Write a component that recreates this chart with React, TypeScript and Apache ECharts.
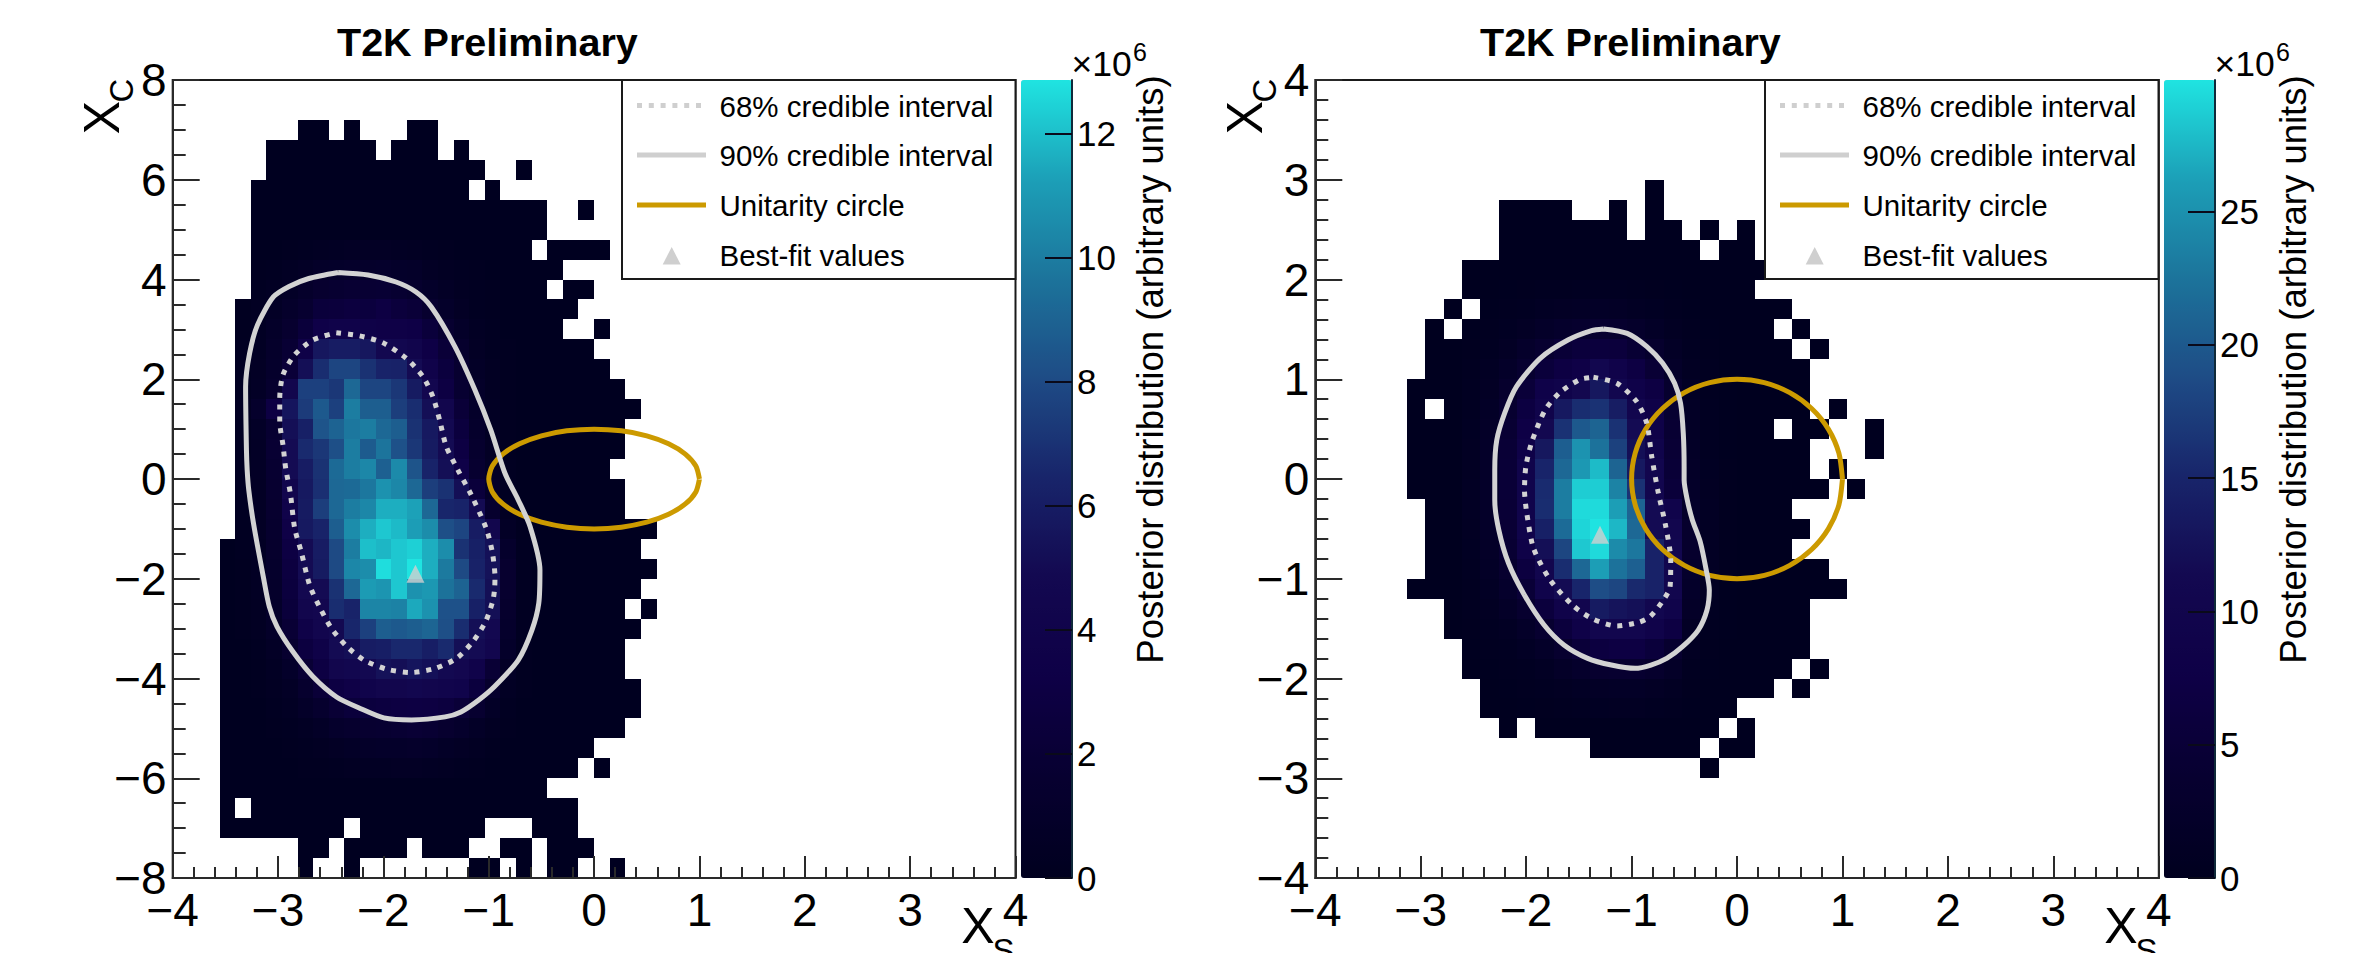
import React, { useEffect, useRef } from "react";
import * as echarts from "echarts";

const FONT = "'Liberation Sans', Arial, sans-serif";

const legendLabels = ["68% credible interval", "90% credible interval", "Unitarity circle", "Best-fit values"];
const titleText = "T2K Preliminary";
const colorbarTitle = "Posterior distribution (arbitrary units)";

// Histogram binning
const leftBins = 54;
const rightBins = 46;
const rowCount = 40;

// Occupied bins per row (row 0 is the top row): [firstColumn, lastColumn]
const leftOccupied: number[][][] = [
  [], [],
  [[8, 9], [11, 11], [15, 16]],
  [[6, 12], [14, 16], [18, 18]],
  [[6, 19], [22, 22]],
  [[5, 18], [20, 20]],
  [[5, 23], [26, 26]],
  [[5, 23]],
  [[5, 22], [24, 27]],
  [[5, 24]],
  [[5, 23], [25, 26]],
  [[4, 25]],
  [[4, 24], [27, 27]],
  [[4, 26]],
  [[4, 27]],
  [[4, 28]],
  [[4, 29]],
  [[4, 28]],
  [[4, 28]],
  [[4, 27]],
  [[4, 28]],
  [[4, 28]],
  [[4, 30]],
  [[3, 29]],
  [[3, 30]],
  [[3, 29]],
  [[3, 28], [30, 30]],
  [[3, 29]],
  [[3, 28]],
  [[3, 28]],
  [[3, 29]],
  [[3, 29]],
  [[3, 28]],
  [[3, 26]],
  [[3, 25], [27, 27]],
  [[3, 23]],
  [[3, 3], [5, 25]],
  [[3, 10], [12, 19], [23, 25]],
  [[8, 9], [11, 14], [16, 18], [21, 22], [24, 26]],
  [[8, 8], [11, 11], [19, 20], [22, 22], [24, 25], [28, 28]],
];

const rightOccupied: number[][][] = [
  [], [], [], [], [],
  [[18, 18]],
  [[10, 13], [16, 16], [18, 18]],
  [[10, 16], [18, 19], [21, 21], [23, 23]],
  [[10, 20], [22, 23]],
  [[8, 24]],
  [[8, 23]],
  [[7, 7], [9, 25]],
  [[6, 6], [8, 24], [26, 26]],
  [[6, 25], [27, 27]],
  [[6, 26]],
  [[5, 26]],
  [[5, 5], [7, 26], [28, 28]],
  [[5, 24], [26, 27], [30, 30]],
  [[5, 26], [30, 30]],
  [[5, 26], [28, 28]],
  [[5, 27], [29, 29]],
  [[6, 25]],
  [[6, 26]],
  [[6, 25]],
  [[6, 27]],
  [[5, 28]],
  [[7, 26]],
  [[7, 26]],
  [[8, 26]],
  [[8, 25], [27, 27]],
  [[9, 24], [26, 26]],
  [[9, 22]],
  [[10, 10], [12, 21], [23, 23]],
  [[15, 20], [22, 23]],
  [[21, 21]],
  [], [], [], [], [],
];

// Posterior values (x10^6) in the central region; every other occupied bin holds a trace value
const traceValue = 0.1;
const leftCoreFirstRow = 8;
const leftCoreFirstCol = 4;
const leftCore: number[][] = [
  [.1, .1, .1, .2, .3, .4, .5, .6, .6, .6, .5, .4, .3, .2, .1, .1, .1, .1, .1, .1],
  [.1, .2, .3, .5, .7, .9, 1, 1.1, 1.1, 1.2, 1, .9, .6, .4, .3, .2, .1, .1, .1, .1],
  [.1, .3, .5, .8, 1.1, 1.5, 1.7, 1.8, 1.8, 1.9, 1.7, 1.4, 1, .7, .4, .3, .2, .1, .1, .1],
  [.2, .4, .7, 1.1, 1.6, 2.4, 2.5, 2.7, 2.6, 3, 2.5, 2.2, 1.5, 1, .6, .3, .2, .1, .1, .1],
  [.2, .5, .9, 1.5, 2.4, 3.5, 3.8, 3.8, 3.6, 3.4, 3.4, 3.2, 2.4, 1.6, .9, .5, .3, .1, .1, .1],
  [.3, .5, 1.1, 1.9, 3.5, 5.7, 6, 6, 5.7, 4.8, 4.6, 4.2, 3.2, 2.2, 1.3, .6, .3, .2, .1, .1],
  [.3, .6, 1.2, 2.2, 5.2, 6.8, 7.8, 7.8, 7, 6.4, 6.3, 5, 3.9, 2.6, 1.6, .8, .4, .2, .1, .1],
  [.3, .7, 1.4, 4.4, 7.6, 7.6, 7.2, 9.2, 7.8, 7.8, 7.2, 5.9, 4.7, 3, 1.7, .9, .4, .2, .1, .1],
  [.4, 1.2, 3, 5.6, 7.4, 8.6, 7.6, 10, 8.8, 8.8, 7.5, 6.8, 5.2, 4.4, 2.2, 1, .5, .2, .1, .1],
  [.3, .8, 1.7, 5.2, 6.2, 8.4, 9, 9.8, 10, 9.2, 8.8, 7, 5.8, 4.9, 2.6, 1.2, .5, .2, .1, .1],
  [.3, .7, 1.8, 5, 6.7, 7.2, 8.2, 10, 8.7, 9.7, 8.3, 7.2, 5.9, 5, 3, 1.4, .6, .2, .1, .1],
  [.3, .7, 1.7, 5, 6, 7, 9.3, 10, 10.4, 8.9, 10.5, 8.4, 6.4, 5.2, 3.5, 1.6, .7, .3, .1, .1],
  [.3, .6, 1.6, 4.4, 5.8, 6.9, 9.2, 9.3, 9.8, 10.8, 10.4, 9.2, 7.5, 7, 5.2, 2.4, .9, .3, .1, .1],
  [.3, .6, 1.5, 3.8, 5.9, 7.5, 9.2, 10, 10.4, 11.6, 11.6, 11.3, 9.2, 6.5, 6.4, 5, 1.4, .4, .1, .1],
  [.3, .6, 1.4, 3.4, 5.8, 6.4, 8.8, 10.6, 11.6, 12.2, 11.9, 11.2, 10.6, 8.2, 7.8, 6, 4.4, .7, .2, .1],
  [.3, .5, 1.3, 3, 5, 6, 8, 10, 12, 11.8, 12.2, 12.4, 11.6, 10.6, 7, 6.2, 5.3, 1.2, .3, .1],
  [.2, .5, 1.2, 2.8, 5, 5.9, 8, 10.4, 10.6, 12.7, 12.2, 12.87, 11.6, 9.9, 8, 6.3, 5.4, 1.5, .3, .1],
  [.2, .5, 1.1, 2.6, 4.8, 5, 7, 9.2, 11.1, 10.9, 12.2, 10.8, 11, 9.6, 9, 6.7, 5.2, 1.5, .3, .1],
  [.2, .4, 1, 2.4, 4.4, 4.7, 6.8, 6.4, 10.3, 10.3, 10.2, 11.5, 10.8, 8.3, 8.3, 6.2, 5.2, 1.3, .3, .1],
  [.2, .4, .9, 2, 3.6, 4.5, 4.9, 6.5, 7.6, 8.8, 8.6, 8.8, 9.1, 8.2, 6.8, 5.2, 4.8, 1.2, .3, .1],
  [.1, .3, .7, 1.5, 2.8, 3.6, 5, 5.2, 6, 6.1, 6.6, 6.6, 6.1, 6.7, 5.2, 5, 4.5, 1, .2, .1],
  [.1, .2, .5, 1, 2, 3, 4.4, 4.6, 4.9, 5.4, 5.2, 5.6, 5.3, 4.9, 4.7, 3.8, 2, .7, .2, .1],
  [.1, .2, .4, .7, 1.4, 2.2, 3, 3.4, 4, 4.4, 4.4, 4.6, 4.4, 4.2, 4, 2.6, 1.3, .5, .2, .1],
  [.1, .1, .3, .5, .9, 1.4, 2, 2.4, 2.6, 2.8, 2.9, 3, 2.9, 2.7, 2.2, 1.6, .8, .3, .1, .1],
  [.1, .1, .2, .3, .5, .8, 1.2, 1.4, 1.6, 1.7, 1.8, 2, 1.8, 1.5, 1.2, .8, .4, .2, .1, .1],
  [.1, .1, .1, .2, .3, .4, .6, .8, .9, 1, 1, 1.1, 1, .8, .6, .4, .2, .1, .1, .1],
  [.1, .1, .1, .1, .2, .2, .3, .4, .5, .5, .6, .6, .5, .4, .3, .2, .1, .1, .1, .1],
];

const rightCoreFirstRow = 10;
const rightCoreFirstCol = 8;
const rightCore: number[][] = [
  [.1, .1, .2, .3, .4, .5, .6, .6, .6, .5, .3, .2, .1, .1, .1, .1],
  [.1, .2, .4, .7, 1, 1.4, 1.6, 1.7, 1.6, 1.2, .8, .5, .2, .1, .1, .1],
  [.2, .4, .8, 1.4, 2.2, 2.9, 3.3, 3.5, 3.3, 2.6, 1.7, .9, .4, .2, .1, .1],
  [.3, .7, 1.4, 2.6, 3.8, 5, 5.8, 6, 5.7, 4.4, 3, 1.5, .6, .3, .1, .1],
  [.4, 1, 2.2, 3.8, 5.6, 6.9, 8, 10.7, 9, 6.9, 4.6, 2.3, .9, .4, .1, .1],
  [.6, 1.4, 3, 5.3, 8.6, 9.3, 11, 13.3, 10.7, 8.6, 7, 3.2, 1.3, .5, .2, .1],
  [.7, 1.8, 3.7, 6.6, 9.3, 13.5, 15.8, 16.3, 14, 10.5, 8.2, 3.9, 1.5, .6, .2, .1],
  [.8, 2, 4.3, 7.6, 11.2, 16.3, 20, 21, 16.3, 11.6, 8.2, 4.2, 1.6, .6, .2, .1],
  [.9, 2.2, 4.8, 8.4, 13.3, 20.5, 25.2, 22.4, 17.7, 12.1, 9.3, 4.6, 1.8, .7, .2, .1],
  [.9, 2.3, 5, 9.3, 14.9, 21.4, 25.6, 27.7, 21, 13.5, 10.5, 5, 2, .8, .3, .1],
  [1, 2.3, 5, 9.3, 15.6, 23.3, 28.7, 28.7, 23.8, 16.3, 10.5, 5.4, 2.2, .9, .3, .1],
  [1, 2.3, 4.8, 9.3, 15.8, 23.3, 29.4, 29.4, 26.1, 21, 11.6, 9.3, 2.4, 1, .3, .1],
  [.9, 2.2, 4.6, 9.3, 14.4, 21.7, 29.1, 29.9, 27.5, 21.4, 11.6, 10.3, 3, 1.1, .3, .1],
  [.8, 2, 4.2, 8.4, 12.1, 18.2, 28.4, 29.4, 24.5, 22.8, 14.7, 10.7, 3, 1.1, .3, .1],
  [.7, 1.7, 3.6, 6.5, 10.5, 15.8, 21.4, 26.1, 22.4, 20.7, 14.7, 10.3, 2.8, 1, .3, .1],
  [.5, 1.3, 2.8, 5, 9.3, 11.6, 15.1, 18.9, 18.2, 15.4, 14.7, 10.5, 2.4, .9, .2, .1],
  [.4, .9, 1.9, 3.6, 6, 8.9, 10.5, 13.7, 12.8, 12.3, 10.7, 9.3, 1.9, .7, .2, .1],
  [.3, .6, 1.2, 2.2, 3.8, 6, 8.2, 10.3, 10.5, 10.5, 8.9, 7, 1.4, .5, .2, .1],
  [.2, .4, .7, 1.3, 2.2, 3.6, 5.3, 6.5, 7, 7, 5.6, 3.5, .9, .3, .1, .1],
  [.1, .2, .4, .7, 1.2, 1.9, 2.8, 3.5, 3.8, 3.8, 3, 1.9, .5, .2, .1, .1],
  [.1, .1, .2, .4, .6, .9, 1.3, 1.6, 1.8, 1.8, 1.4, .9, .3, .1, .1, .1],
  [.1, .1, .1, .2, .3, .4, .6, .8, .9, .9, .7, .4, .2, .1, .1, .1],
];

// Credible-interval contours, read in data coordinates
const left90: number[][] = [
  [-2.43, 4.14], [-2.145, 4.09], [-1.88, 3.95], [-1.69, 3.75], [-1.545, 3.45], [-1.32, 2.65], [-1.13, 1.78],
  [-.98, .98], [-.845, .11], [-.72, -.42], [-.607, -.956], [-.514, -1.825], [-.525, -2.49], [-.59, -3.03],
  [-.72, -3.63], [-.945, -4.16], [-1.095, -4.43], [-1.264, -4.67], [-1.414, -4.77], [-1.733, -4.83],
  [-1.995, -4.79], [-2.22, -4.6], [-2.445, -4.37], [-2.67, -3.96], [-2.86, -3.46], [-3.01, -2.96],
  [-3.083, -2.56], [-3.14, -1.96], [-3.233, -.89], [-3.278, -.22], [-3.293, .18], [-3.3, .58], [-3.308, 1.85],
  [-3.27, 2.52], [-3.195, 3.09], [-3.045, 3.65], [-2.895, 3.86], [-2.708, 4.02], [-2.43, 4.14],
];
const left68: number[][] = [
  [-2.447, 2.934], [-2.225, 2.87], [-2.004, 2.73], [-1.783, 2.42], [-1.624, 2.05], [-1.53, 1.65], [-1.466, 1.18],
  [-1.403, .65], [-1.292, .18], [-1.166, -.32], [-1.024, -.99], [-.967, -1.46], [-.941, -1.96], [-.944, -2.19],
  [-.96, -2.43], [-1.03, -2.86], [-1.15, -3.26], [-1.308, -3.6], [-1.514, -3.8], [-1.735, -3.88], [-1.956, -3.82],
  [-2.178, -3.64], [-2.352, -3.35], [-2.494, -2.99], [-2.605, -2.57], [-2.7, -2.13], [-2.78, -1.46], [-2.842, -.99],
  [-2.883, -.29], [-2.927, .21], [-2.953, .68], [-2.984, 1.15], [-2.984, 1.62], [-2.953, 2.09], [-2.842, 2.49],
  [-2.668, 2.79], [-2.447, 2.934],
];
const right90: number[][] = [
  [-1.267, 1.504], [-1.042, 1.46], [-.855, 1.327], [-.705, 1.16], [-.592, .96], [-.536, .76], [-.51, .46],
  [-.502, .124], [-.502, -.01], [-.472, -.21], [-.424, -.41], [-.349, -.63], [-.293, -.91], [-.263, -1.113],
  [-.285, -1.313], [-.368, -1.514], [-.518, -1.681], [-.667, -1.798], [-.817, -1.865], [-.967, -1.898],
  [-1.192, -1.865], [-1.417, -1.798], [-1.642, -1.664], [-1.83, -1.464], [-2.017, -1.163], [-2.167, -.845],
  [-2.26, -.51], [-2.298, -.21], [-2.298, .09], [-2.279, .39], [-2.204, .66], [-2.092, .926], [-1.867, 1.21],
  [-1.604, 1.393], [-1.38, 1.487], [-1.267, 1.504],
];
const right68: number[][] = [
  [-1.362, 1.02], [-1.14, .96], [-.951, .775], [-.856, .558], [-.809, .224], [-.746, -.144], [-.682, -.444],
  [-.629, -.812], [-.635, -1.08], [-.698, -1.213], [-.825, -1.38], [-.935, -1.437], [-1.14, -1.474], [-1.362, -1.407],
  [-1.551, -1.273], [-1.772, -1.013], [-1.93, -.695], [-1.994, -.344], [-2.016, -.11], [-2.003, .124], [-1.946, .374],
  [-1.82, .692], [-1.678, .869], [-1.488, .999], [-1.362, 1.02],
];

// Unit circle
const unitarityCircle: number[][] = [
  [1, 0], [.966, .259], [.866, .5], [.707, .707], [.5, .866], [.259, .966], [0, 1], [-.259, .966], [-.5, .866],
  [-.707, .707], [-.866, .5], [-.966, .259], [-1, 0], [-.966, -.259], [-.866, -.5], [-.707, -.707], [-.5, -.866],
  [-.259, -.966], [0, -1], [.259, -.966], [.5, -.866], [.707, -.707], [.866, -.5], [.966, -.259], [1, 0],
];

const leftBestFit = [-1.696, -1.9];
const rightBestFit = [-1.3, -0.56];

const leftColorMax = 12.87;
const rightColorMax = 29.93;
const leftColorTicks = [0, 2, 4, 6, 8, 10, 12];
const rightColorTicks = [0, 5, 10, 15, 20, 25];

const colorStops = ["#00001f", "#070030", "#0e0046", "#130850", "#18246a", "#1e4b85", "#1c739b", "#1c9fb7", "#1fe4e1"];

const BLACK = "#000000";
const AXIS = "#2a2a2a";
const CONTOUR = "#d3d3d3";
const GOLD = "#cc9a00";

function buildCells(
  occupied: number[][][], bins: number, xMin: number, xMax: number, yMax: number, yMin: number,
  core: number[][], firstRow: number, firstCol: number,
) {
  const cells: number[][] = [];
  const dx = (xMax - xMin) / bins;
  const dy = (yMax - yMin) / rowCount;
  occupied.forEach((runs, r) => {
    runs.forEach(([a, b]) => {
      for (let c = a; c <= b; c++) {
        const coreRow = core[r - firstRow];
        const v = coreRow && coreRow[c - firstCol] !== undefined ? coreRow[c - firstCol] : traceValue;
        cells.push([xMin + c * dx, yMax - (r + 1) * dy, xMin + (c + 1) * dx, yMax - r * dy, v]);
      }
    });
  });
  return cells;
}

const minus = (v: number) => (v < 0 ? "\u2212" + -v : String(v));

const renderCell = (_: any, api: any) => {
  const a = api.coord([api.value(0), api.value(3)]);
  const b = api.coord([api.value(2), api.value(1)]);
  const x = Math.round(a[0]);
  const y = Math.round(a[1]);
  return {
    type: "rect",
    shape: { x, y, width: Math.round(b[0]) - x, height: Math.round(b[1]) - y },
    style: { fill: api.visual("color") },
  };
};

function valueAxis(gridIndex: number, min: number, max: number, interval: number, minorSplit: number, isX: boolean) {
  return {
    type: "value",
    gridIndex,
    min,
    max,
    interval,
    position: isX ? "bottom" : "left",
    splitLine: { show: false },
    axisLine: { show: true, onZero: false, lineStyle: { color: AXIS, width: 2 } },
    axisTick: { show: true, inside: true, length: isX ? 22 : 27, lineStyle: { color: AXIS, width: 2 } },
    minorTick: { show: true, splitNumber: minorSplit, length: isX ? 11 : 13, lineStyle: { color: AXIS, width: 2 } },
    minorSplitLine: { show: false },
    axisLabel: {
      color: BLACK, fontFamily: FONT, fontSize: 46, margin: isX ? 9 : 6, formatter: minus,
      showMinLabel: true, showMaxLabel: true,
    },
    z: 5,
  };
}

function hiddenX(gridIndex: number) {
  return { type: "value", gridIndex, min: 0, max: 1, show: false };
}

function colorAxis(gridIndex: number, max: number, ticks: number[]) {
  return {
    type: "value",
    gridIndex,
    min: 0,
    max,
    position: "right",
    splitLine: { show: false },
    axisLine: { show: true, onZero: false, lineStyle: { color: "#102a3a", width: 2 } },
    axisTick: { show: true, inside: true, length: 27, customValues: ticks, lineStyle: { color: "#0a0a1a", width: 2 } },
    axisLabel: { color: BLACK, fontFamily: FONT, fontSize: 35, margin: 5, customValues: ticks },
    z: 10,
  };
}

function lineSeries(name: string, xAxisIndex: number, data: number[][], color: string, dashed: boolean) {
  return {
    name,
    type: "line",
    xAxisIndex,
    yAxisIndex: xAxisIndex,
    data,
    smooth: 0.25,
    showSymbol: false,
    silent: true,
    lineStyle: { color, width: 5, type: dashed ? [5, 6.8] : "solid", cap: "butt" },
    z: 3,
  };
}

function panelGraphics(dx: number) {
  const rowY = [105.5, 155, 205, 255];
  const text = (t: string, x: number, y: number, size: number, extra: any = {}) => ({
    type: "text",
    x,
    y,
    z: 100,
    style: { text: t, fontFamily: FONT, fontSize: size, fill: BLACK, textAlign: "left", textVerticalAlign: "middle", ...extra },
  });
  const sampleLeft = 637 + dx;
  const sampleRight = 706 + dx;
  const sample = (y: number, color: string, dash?: number[]) => ({
    type: "line",
    z: 100,
    shape: { x1: sampleLeft, y1: y, x2: sampleRight, y2: y },
    style: { stroke: color, lineWidth: 5, lineDash: dash },
  });
  const triX = 671.7 + dx;
  return [
    text(titleText, 337 + dx, 42, 39.5, { fontWeight: "bold" }),
    {
      type: "rect",
      z: 99,
      shape: { x: 622 + dx, y: 80, width: 393.5, height: 199 },
      style: { fill: "#ffffff", stroke: "#1a1a1a", lineWidth: 2 },
    },
    sample(rowY[0], "#cfcfcf", [5, 6.8]),
    sample(rowY[1], "#cfcfcf"),
    sample(rowY[2], GOLD),
    {
      type: "polygon",
      z: 100,
      shape: { points: [[triX, 247], [triX + 9, 264.5], [triX - 9, 264.5]] },
      style: { fill: "#cfcfcf" },
    },
    ...legendLabels.map((t, i) => text(t, 719.5 + dx, rowY[i] + 0.5, 29.5)),
    text("\u00d710", 1071.5 + dx, 64, 35.5),
    text("6", 1133 + dx, 52, 25),
    {
      type: "text",
      x: 1150 + dx,
      y: 369.5,
      rotation: Math.PI / 2,
      z: 100,
      style: { text: colorbarTitle, fontFamily: FONT, fontSize: 36.5, fill: BLACK, textAlign: "center", textVerticalAlign: "middle" },
    },
    {
      type: "text",
      x: 102 + dx,
      y: 117.5,
      rotation: Math.PI / 2,
      z: 100,
      style: { text: "X", fontFamily: FONT, fontSize: 50, fill: BLACK, textAlign: "center", textVerticalAlign: "middle" },
    },
    {
      type: "text",
      x: 121.5 + dx,
      y: 90.5,
      rotation: Math.PI / 2,
      z: 100,
      style: { text: "C", fontFamily: FONT, fontSize: 33, fill: BLACK, textAlign: "center", textVerticalAlign: "middle" },
    },
    {
      type: "text",
      x: 978 + dx,
      y: 926,
      z: 100,
      style: { text: "X", fontFamily: FONT, fontSize: 50, fill: BLACK, textAlign: "center", textVerticalAlign: "middle" },
    },
    {
      type: "text",
      x: 1003.5 + dx,
      y: 950,
      z: 100,
      style: { text: "S", fontFamily: FONT, fontSize: 33, fill: BLACK, textAlign: "center", textVerticalAlign: "middle" },
    },
  ];
}

export default function App() {
  const ref = useRef<HTMLDivElement>(null);
  useEffect(() => {
    if (!ref.current) return;
    document.body.style.margin = "0";
    const chart = echarts.init(ref.current, undefined, { renderer: "svg" });
    const leftCells = buildCells(leftOccupied, leftBins, -4, 4, 8, -8, leftCore, leftCoreFirstRow, leftCoreFirstCol);
    const rightCells = buildCells(rightOccupied, rightBins, -4, 4, 4, -4, rightCore, rightCoreFirstRow, rightCoreFirstCol);
    const heat = (name: string, idx: number, data: number[][]) => ({
      name,
      type: "custom",
      coordinateSystem: "cartesian2d",
      xAxisIndex: idx,
      yAxisIndex: idx,
      data,
      encode: { x: [0, 2], y: [1, 3] },
      renderItem: renderCell,
      silent: true,
      clip: true,
      z: 1,
    });
    chart.setOption({
      animation: false,
      backgroundColor: "#ffffff",
      grid: [
        { left: 172.7, top: 80, width: 842.8, height: 798, show: true, borderColor: "#1a1a1a", borderWidth: 2, backgroundColor: "#ffffff" },
        { left: 1315.3, top: 80, width: 843.5, height: 798, show: true, borderColor: "#1a1a1a", borderWidth: 2, backgroundColor: "#ffffff" },
        { left: 1021, top: 80, width: 51, height: 798, show: false },
        { left: 2164, top: 80, width: 51, height: 798, show: false },
      ],
      xAxis: [valueAxis(0, -4, 4, 1, 5, true), valueAxis(1, -4, 4, 1, 5, true), hiddenX(2), hiddenX(3)],
      yAxis: [
        valueAxis(0, -8, 8, 2, 4, false),
        valueAxis(1, -4, 4, 1, 5, false),
        colorAxis(2, leftColorMax, leftColorTicks),
        colorAxis(3, rightColorMax, rightColorTicks),
      ],
      visualMap: [
        {
          type: "continuous", seriesIndex: 0, dimension: 4, min: 0, max: leftColorMax, left: 1021, top: 80,
          itemWidth: 51, itemHeight: 798, padding: 0, calculable: false, hoverLink: false,
          inRange: { color: colorStops }, z: 1,
        },
        {
          type: "continuous", seriesIndex: 1, dimension: 4, min: 0, max: rightColorMax, left: 2164, top: 80,
          itemWidth: 51, itemHeight: 798, padding: 0, calculable: false, hoverLink: false,
          inRange: { color: colorStops }, z: 1,
        },
      ],
      series: [
        heat("Posterior left", 0, leftCells),
        heat("Posterior right", 1, rightCells),
        lineSeries("Unitarity circle", 0, unitarityCircle, GOLD, false),
        lineSeries("Unitarity circle", 1, unitarityCircle, GOLD, false),
        lineSeries("90% credible interval", 0, left90, CONTOUR, false),
        lineSeries("90% credible interval", 1, right90, CONTOUR, false),
        lineSeries("68% credible interval", 0, left68, CONTOUR, true),
        lineSeries("68% credible interval", 1, right68, CONTOUR, true),
        {
          name: "Best-fit values", type: "scatter", xAxisIndex: 0, yAxisIndex: 0, data: [leftBestFit],
          symbol: "triangle", symbolSize: [18, 18], itemStyle: { color: "#cfcfcf" }, silent: true, z: 4,
        },
        {
          name: "Best-fit values", type: "scatter", xAxisIndex: 1, yAxisIndex: 1, data: [rightBestFit],
          symbol: "triangle", symbolSize: [18, 18], itemStyle: { color: "#cfcfcf" }, silent: true, z: 4,
        },
      ],
      graphic: [...panelGraphics(0), ...panelGraphics(1143)],
    });
    return () => chart.dispose();
  }, []);
  return <div ref={ref} style={{ position: "absolute", left: 0, top: 0, width: 2371, height: 953 }} />;
}
